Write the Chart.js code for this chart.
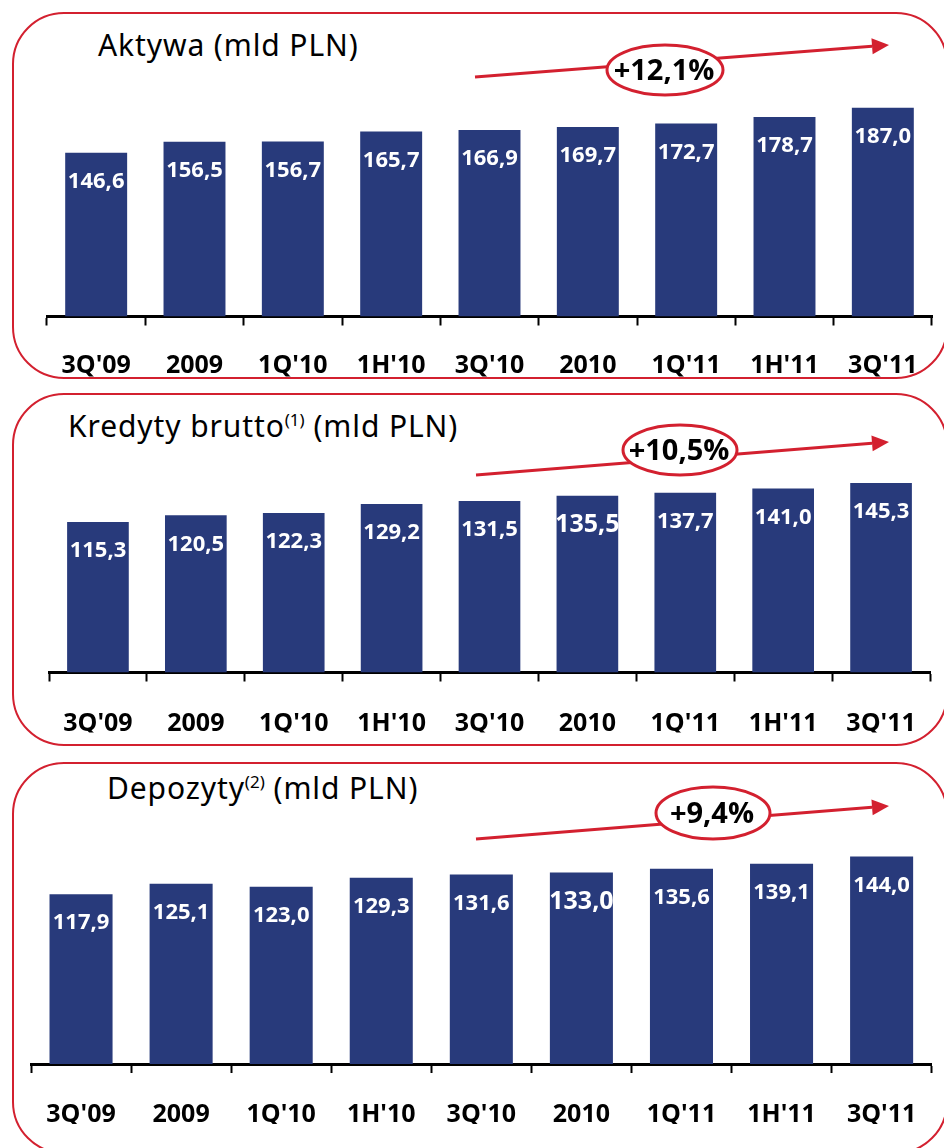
<!DOCTYPE html>
<html>
<head>
<meta charset="utf-8">
<script src="https://cdn.jsdelivr.net/npm/chart.js@4.4.1/dist/chart.umd.min.js"></script>
<style>
  html, body { margin:0; padding:0; background:#fff; }
  body { width:944px; height:1148px; position:relative; overflow:hidden; }
  .box { position:absolute; left:12px; width:936px; box-sizing:border-box; border:2.5px solid #d3202f; border-radius:52px; }
  .title { position:absolute; font-family:"Noto Sans", sans-serif; font-size:30px; line-height:30px; color:#000; letter-spacing:0.9px; white-space:nowrap; }
  .title sup { font-size:17px; vertical-align:0; position:relative; top:-11px; letter-spacing:0; }
  canvas { position:absolute; left:0; }
</style>
</head>
<body>
<div class="box" style="top:12px;height:367px;"></div>
<div class="box" style="top:393px;height:353px;"></div>
<div class="box" style="top:762px;height:392px;"></div>

<div class="title" style="left:98px;top:30px;">Aktywa (mld PLN)</div>
<div class="title" style="left:68px;top:411px;">Kredyty brutto<sup>(1)</sup> (mld PLN)</div>
<div class="title" style="left:107px;top:773px;">Depozyty<sup>(2)</sup> (mld PLN)</div>

<div style="position:absolute;left:0;top:0;width:944px;height:390px;"><canvas id="c1"></canvas></div>
<div style="position:absolute;left:0;top:390px;width:944px;height:360px;"><canvas id="c2"></canvas></div>
<div style="position:absolute;left:0;top:750px;width:944px;height:398px;"><canvas id="c3"></canvas></div>

<script>
const categories = ["3Q'09","2009","1Q'10","1H'10","3Q'10","2010","1Q'11","1H'11","3Q'11"];
const aktywa   = [146.6, 156.5, 156.7, 165.7, 166.9, 169.7, 172.7, 178.7, 187.0];
const kredyty  = [115.3, 120.5, 122.3, 129.2, 131.5, 135.5, 137.7, 141.0, 145.3];
const depozyty = [117.9, 125.1, 123.0, 129.3, 131.6, 133.0, 135.6, 139.1, 144.0];
const growthLabels = ["+12,1%", "+10,5%", "+9,4%"];

const NAVY = '#283a7b';
const RED = '#d3202f';
const AXIS_H = 60;

function fmt(v){ return v.toFixed(1).replace('.', ','); }

const valueLabels = {
  id: 'valueLabels',
  afterDatasetsDraw(chart, args, opts) {
    const ctx = chart.ctx;
    const meta = chart.getDatasetMeta(0);
    const data = chart.data.datasets[0].data;
    ctx.save();
    ctx.fillStyle = '#fff';
    ctx.textAlign = 'center';
    ctx.textBaseline = 'middle';
    meta.data.forEach((bar, i) => {
      const big = opts.bigIndex === i;
      ctx.font = 'bold ' + (big ? 25 : 22) + 'px "Open Sans"';
      ctx.fillText(fmt(data[i]), bar.x, bar.y + 29);
    });
    ctx.restore();
  }
};

const growthArrow = {
  id: 'growthArrow',
  afterDraw(chart, args, o) {
    const ctx = chart.ctx;
    ctx.save();
    ctx.strokeStyle = RED;
    ctx.fillStyle = RED;
    ctx.lineWidth = 3;
    const ang = Math.atan2(o.y2 - o.y1, o.x2 - o.x1);
    const hl = 17, hw = 8;
    const bx = o.x2 - hl * Math.cos(ang), by = o.y2 - hl * Math.sin(ang);
    ctx.beginPath();
    ctx.moveTo(o.x1, o.y1);
    ctx.lineTo(bx, by);
    ctx.stroke();
    ctx.beginPath();
    ctx.moveTo(o.x2, o.y2);
    ctx.lineTo(bx + hw * Math.sin(ang), by - hw * Math.cos(ang));
    ctx.lineTo(bx - hw * Math.sin(ang), by + hw * Math.cos(ang));
    ctx.closePath();
    ctx.fill();
    ctx.beginPath();
    ctx.ellipse(o.cx, o.cy, o.rx, o.ry, 0, 0, Math.PI * 2);
    ctx.fillStyle = '#fff';
    ctx.fill();
    ctx.lineWidth = 3;
    ctx.stroke();
    ctx.fillStyle = '#000';
    ctx.font = 'bold 29px "Open Sans"';
    ctx.textAlign = 'center';
    ctx.textBaseline = 'middle';
    ctx.fillText(o.text, o.cx - 1, o.cy + 2);
    ctx.restore();
  }
};

function makeChart(id, values, cfg) {
  return new Chart(document.getElementById(id), {
    type: 'bar',
    data: {
      labels: categories,
      datasets: [{
        data: values,
        backgroundColor: NAVY,
        borderWidth: 0,
        categoryPercentage: 1,
        barPercentage: 0.63
      }]
    },
    options: {
      responsive: true,
      maintainAspectRatio: false,
      animation: false,
      events: [],
      layout: { padding: { left: cfg.left, right: cfg.right, top: cfg.top, bottom: cfg.bottom } },
      plugins: {
        legend: { display: false },
        tooltip: { enabled: false },
        valueLabels: { bigIndex: cfg.bigIndex },
        growthArrow: cfg.arrow
      },
      scales: {
        x: {
          afterFit(scale) { scale.height = AXIS_H; },
          grid: { display: true, drawOnChartArea: false, drawTicks: true, tickLength: 9, tickWidth: 2, tickColor: '#000', offset: true },
          border: { display: true, color: '#000', width: 3 },
          ticks: { color: '#000', font: { family: 'Open Sans', weight: 'bold', size: 25 }, padding: cfg.tickPad, maxRotation: 0, autoSkip: false }
        },
        y: { display: false, min: 0, max: cfg.max }
      }
    },
    plugins: [valueLabels, growthArrow]
  });
}

makeChart('c1', aktywa, {
  left: 47, right: 12, top: 30, bottom: 13.5, tickPad: 25, max: 256.5, bigIndex: -1,
  arrow: { x1: 475, y1: 77, x2: 889, y2: 45, cx: 665, cy: 70, rx: 58, ry: 25, text: growthLabels[0] }
});
makeChart('c2', kredyty, {
  left: 49, right: 14, top: 30, bottom: 17.5, tickPad: 27, max: 193.5, bigIndex: 5,
  arrow: { x1: 476, y1: 85, x2: 889, y2: 52, cx: 680, cy: 60, rx: 57, ry: 25, text: growthLabels[1] }
});
makeChart('c3', depozyty, {
  left: 31, right: 12, top: 30, bottom: 24, tickPad: 27, max: 197.2, bigIndex: 5,
  arrow: { x1: 476, y1: 89, x2: 889, y2: 56, cx: 713, cy: 63, rx: 57, ry: 26, text: growthLabels[2] }
});
</script>
</body>
</html>
